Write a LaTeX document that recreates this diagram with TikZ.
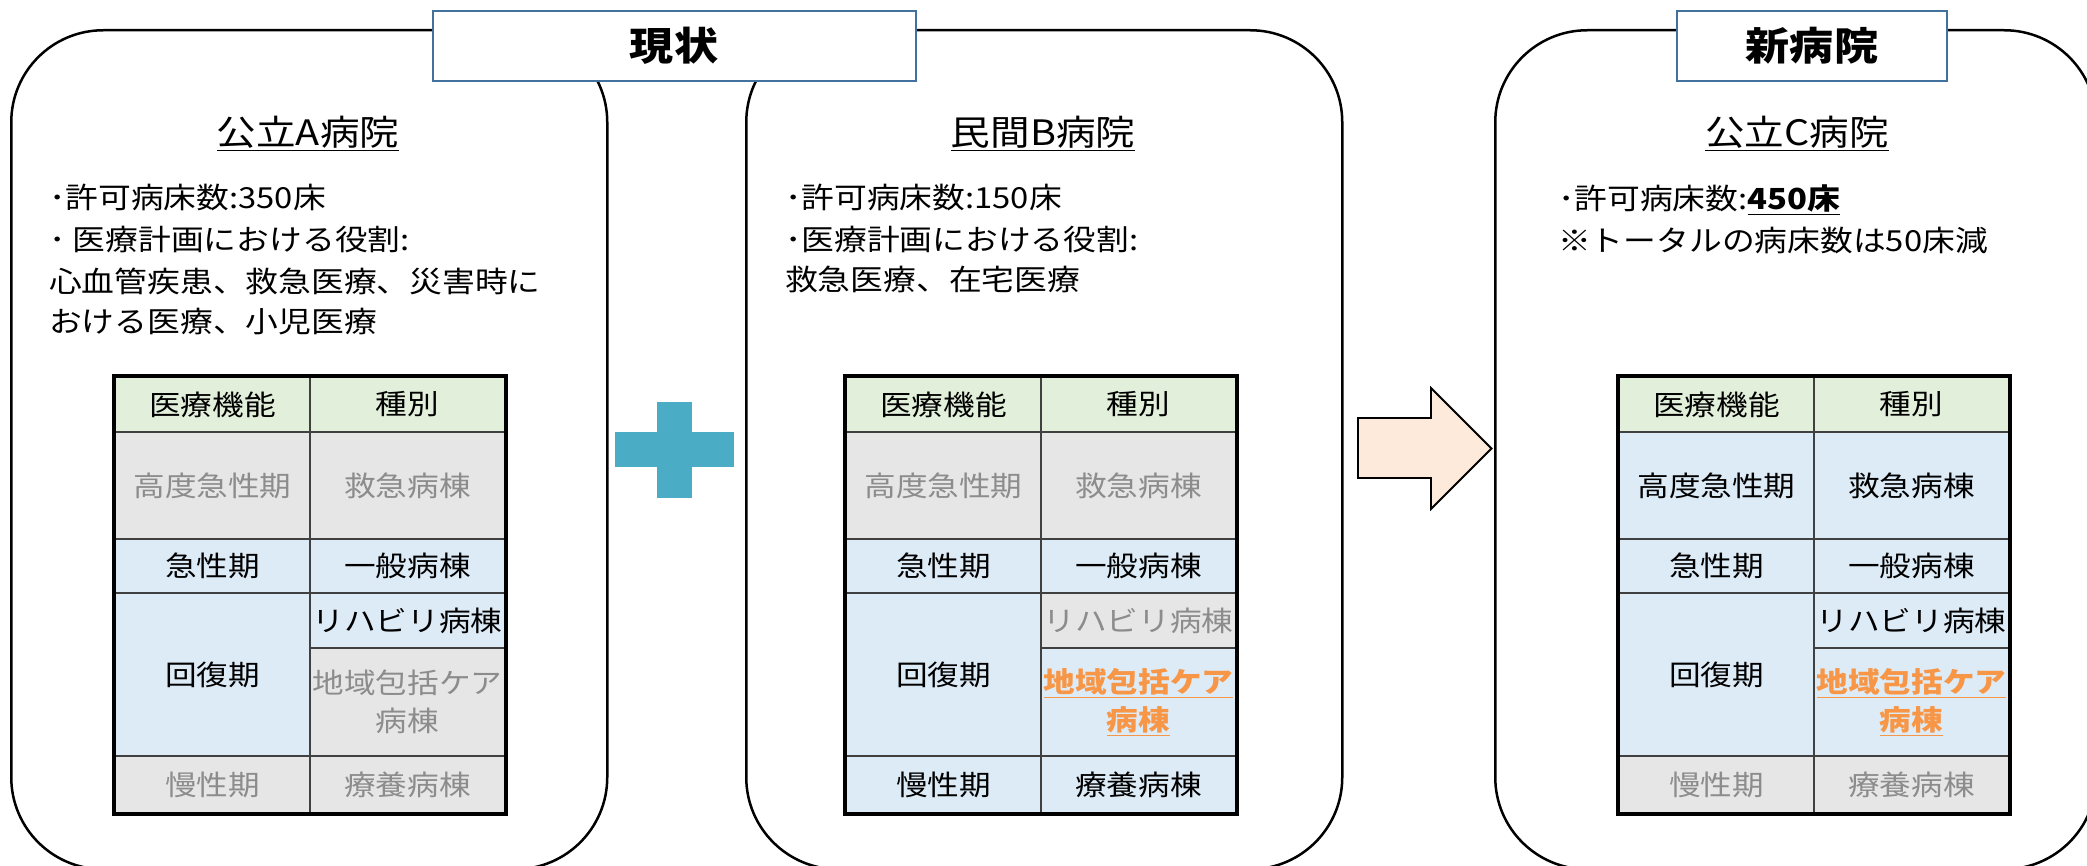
\documentclass[tikz,border=0pt]{standalone}
\usepackage{fontspec}
\setmainfont{Noto Sans CJK JP}[FakeStretch=1.13]
\definecolor{hdrgreen}{HTML}{E2EFDA}
\definecolor{cellgray}{HTML}{E7E6E6}
\definecolor{cellblue}{HTML}{DDEBF7}
\definecolor{txtgray}{HTML}{8C8C8C}
\definecolor{orangetx}{HTML}{F79646}
\definecolor{plusblue}{HTML}{4BACC6}
\definecolor{arrowfill}{HTML}{FDEADA}
\definecolor{titleblue}{HTML}{41719C}
\definecolor{gridline}{HTML}{404040}
\newcommand\fsbody{\fontsize{29}{41}\selectfont}
\newcommand\fstitle{\fontsize{35}{42}\selectfont}
\newcommand\fshead{\fontsize{39}{46}\selectfont\bfseries}
\newcommand\fscell{\fontsize{28}{38}\selectfont}
\tikzset{
  hospbox/.style={draw=black, line width=2.5pt, rounded corners=92pt, anchor=north west, inner sep=0pt},
  titlebox/.style={draw=titleblue, line width=2pt, fill=white, font=\fshead, inner sep=0pt},
  hname/.style={anchor=base, inner sep=0pt, font=\fstitle},
  bodytxt/.style={anchor=base west, inner sep=0pt, font=\fsbody},
  tcell/.style={anchor=north west, minimum width=195pt, inner sep=0pt, draw=gridline, line width=2pt, font=\fscell, align=center},
  hdr/.style={fill=hdrgreen, text=black, minimum height=55pt},
  gcell/.style={fill=cellgray, text=txtgray},
  bcell/.style={fill=cellblue, text=black},
  ocell/.style={fill=cellblue, text=orangetx, font=\fscell\bfseries},
}
\newcommand\hosptable[7]{%
 \node[tcell,hdr] (#1h1) at (#2,376) {医療機能};
 \node[tcell,hdr] (#1h2) at (#2+195,376) {種別};
 \node[tcell,#3,minimum height=107pt] (#1a1) at (#2,431) {高度急性期};
 \node[tcell,#3,minimum height=107pt] (#1a2) at (#2+195,431) {救急病棟};
 \node[tcell,bcell,minimum height=54pt] (#1b1) at (#2,538) {急性期};
 \node[tcell,bcell,minimum height=54pt] (#1b2) at (#2+195,538) {一般病棟};
 \node[tcell,bcell,minimum height=163pt] (#1c1) at (#2,592) {回復期};
 \node[tcell,#4,minimum height=55pt] (#1c2) at (#2+195,592) {リハビリ病棟};
 \node[tcell,#5,minimum height=108pt] (#1c3) at (#2+195,647) {#7};
 \node[tcell,#6,minimum height=57pt] (#1d1) at (#2,755) {慢性期};
 \node[tcell,#6,minimum height=57pt] (#1d2) at (#2+195,755) {療養病棟};
 \draw[line width=3.5pt] (#1h1.north west) rectangle (#1d2.south east);
}
\begin{document}
\begin{tikzpicture}[x=1pt,y=-1pt]
\useasboundingbox (0,0) rectangle (2087,866);
% hospital boxes
\node[hospbox, minimum width=596pt, minimum height=839pt] (boxA) at (10,29) {};
\node[hospbox, minimum width=596pt, minimum height=839pt] (boxB) at (745,29) {};
\node[hospbox, minimum width=601pt, minimum height=839pt] (boxC) at (1494,29) {};
% title boxes
\node[titlebox, minimum width=483pt, minimum height=70pt] (ttlA) at (674,46) {現状};
\node[titlebox, minimum width=270pt, minimum height=70pt] (ttlC) at (1812,46) {新病院};
% hospital names
\node[hname] (nmA) at (308,146) {\underline{公立A病院}};
\node[hname] (nmB) at (1043,146) {\underline{民間B病院}};
\node[hname] (nmC) at (1797,146) {\underline{公立C病院}};
% body texts
\node[bodytxt] (a1) at (49,209) {･許可病床数:350床};
\node[bodytxt] (a2) at (49,251) {･\ 医療計画における役割:};
\node[bodytxt] (a3) at (49,293) {心血管疾患、救急医療、災害時に};
\node[bodytxt] (a4) at (49,333) {おける医療、小児医療};
\node[bodytxt] (b1) at (785,209) {･許可病床数:150床};
\node[bodytxt] (b2) at (785,251) {･医療計画における役割:};
\node[bodytxt] (b3) at (785,291) {救急医療、在宅医療};
\node[bodytxt] (c1) at (1558,210) {･許可病床数:\underline{\textbf{450床}}};
\node[bodytxt] (c2) at (1558,252) {※トータルの病床数は50床減};
% tables
\hosptable{tA}{114}{gcell}{bcell}{gcell}{gcell}{地域包括ケア\\病棟}
\hosptable{tB}{845}{gcell}{gcell}{ocell}{bcell}{\underline{地域包括ケア}\\\underline{病棟}}
\hosptable{tC}{1618}{bcell}{bcell}{ocell}{gcell}{\underline{地域包括ケア}\\\underline{病棟}}
% plus sign
\fill[plusblue] (615,432) rectangle (734,467);
\fill[plusblue] (657,402) rectangle (692,498);
% arrow
\draw[fill=arrowfill, line width=1.8pt, line join=miter]
  (1358,418) -- (1431,418) -- (1431,388) -- (1491.5,448.5) -- (1431,509) -- (1431,478) -- (1358,478) -- cycle;
\end{tikzpicture}
\end{document}
